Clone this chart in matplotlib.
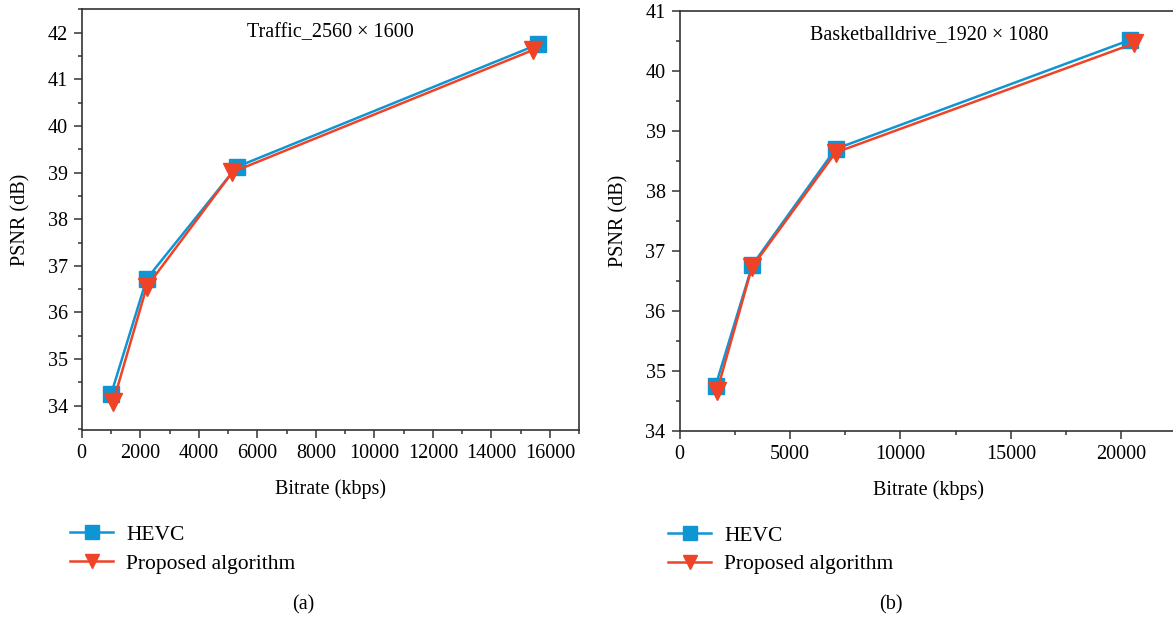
import matplotlib
matplotlib.use("Agg")
import matplotlib.pyplot as plt
from matplotlib.ticker import MultipleLocator

plt.rcParams['font.family'] = ['Liberation Serif', 'DejaVu Serif']

# (a) Traffic_2560x1600
traffic_rate_hevc = [1010, 2220, 5295, 15600]
traffic_psnr_hevc = [34.26, 36.72, 39.12, 41.75]
traffic_rate_prop = [1080, 2220, 5150, 15430]
traffic_psnr_prop = [34.09, 36.55, 39.01, 41.63]

# (b) Basketballdrive_1920x1080
bball_rate_hevc = [1630, 3300, 7060, 20410]
bball_psnr_hevc = [34.75, 36.77, 38.70, 40.52]
bball_rate_prop = [1700, 3280, 7060, 20570]
bball_psnr_prop = [34.67, 36.73, 38.64, 40.46]

BLUE = "#0e95d3"
RED = "#ee4327"
SPINE = "#333333"
FS = 14.5

fig = plt.figure(figsize=(11.73, 6.17), dpi=100)
W, H = 1173, 617


def px_axes(x0, y_top, x1, y_bot):
    return fig.add_axes([x0 / W, (H - y_bot) / H, (x1 - x0) / W, (y_bot - y_top) / H])


def style(ax, title, xmaj, xmin, caption, cap_x):
    ax.yaxis.set_major_locator(MultipleLocator(1))
    ax.yaxis.set_minor_locator(MultipleLocator(0.5))
    ax.xaxis.set_major_locator(MultipleLocator(xmaj))
    ax.xaxis.set_minor_locator(MultipleLocator(xmin))
    ax.tick_params(which="major", direction="out", length=6, width=1.1, color=SPINE,
                   labelsize=FS, pad=4)
    ax.tick_params(which="minor", direction="out", length=3, width=1.1, color=SPINE)
    for s in ax.spines.values():
        s.set_color(SPINE)
        s.set_linewidth(1.2)
    ax.set_xlabel("Bitrate (kbps)", fontsize=FS, labelpad=12)
    ax.set_ylabel("PSNR (dB)", fontsize=FS, labelpad=12)
    ax.text(0.5, 0.945, title, transform=ax.transAxes, ha="center", va="center",
            fontsize=FS)
    ax.legend(loc="upper left", bbox_to_anchor=(-0.04, -0.205), frameon=False,
              fontsize=15.5, handlelength=2.0, labelspacing=0.4, handletextpad=0.6,
              borderaxespad=0, markerscale=0.85)
    ax.text(cap_x, -0.415, caption, transform=ax.transAxes, ha="center", va="center",
            fontsize=FS)


def draw(ax, rh, ph, rp, pp):
    ax.plot(rh, ph, color=BLUE, lw=1.8, marker="s", ms=12, mec=BLUE, mfc=BLUE,
            label="HEVC")
    ax.plot(rp, pp, color=RED, lw=1.8, marker="v", ms=12.5, mec=RED, mfc=RED,
            label="Proposed algorithm")


ax1 = px_axes(81.7, 9.3, 579.3, 430)
draw(ax1, traffic_rate_hevc, traffic_psnr_hevc, traffic_rate_prop, traffic_psnr_prop)
ax1.set_xlim(0, 17000)
ax1.set_ylim(33.48, 42.5)
style(ax1, "Traffic_2560 × 1600", 2000, 1000, "(a)", 0.445)

ax2 = px_axes(679.5, 11, 1178, 431)
draw(ax2, bball_rate_hevc, bball_psnr_hevc, bball_rate_prop, bball_psnr_prop)
ax2.set_xlim(0, 22560)
ax2.set_ylim(34, 41)
style(ax2, "Basketballdrive_1920 × 1080", 5000, 2500, "(b)", 0.424)

fig.savefig("out.png", dpi=100)
